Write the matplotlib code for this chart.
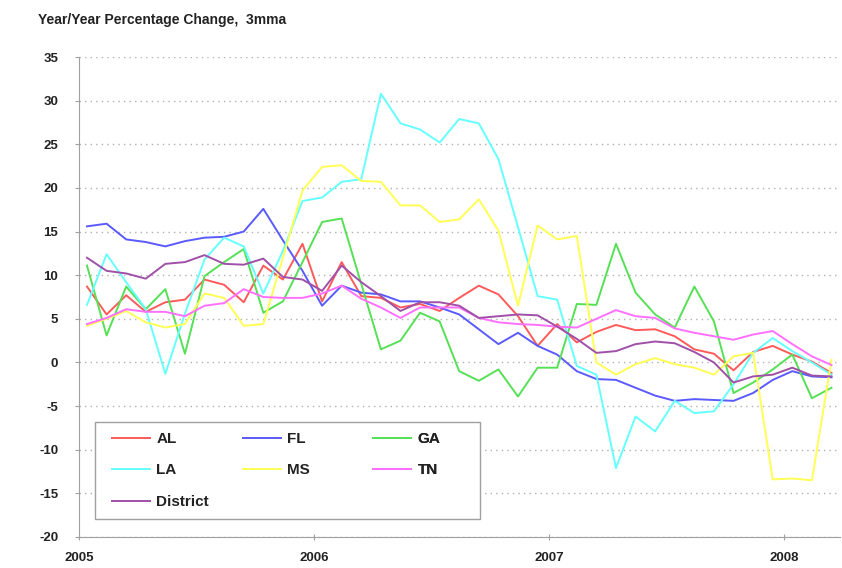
import matplotlib.pyplot as plt
from matplotlib.patches import Rectangle
import numpy as np

plt.rcParams['font.family'] = ['Liberation Sans', 'DejaVu Sans']
plt.rcParams['axes.unicode_minus'] = False

# monthly, Jan 2005 .. Mar 2008, year/year % change (3mma)
AL = [8.7, 5.5, 7.7, 5.8, 6.9, 7.2, 9.5, 8.9, 6.9, 11.1, 9.5, 13.6,
      7.0, 11.5, 7.6, 7.4, 6.3, 6.7, 5.9, 7.4, 8.8, 7.8, 5.3, 1.9,
      4.4, 2.3, 3.5, 4.3, 3.7, 3.8, 3.0, 1.5, 1.0, -0.9, 1.2, 1.9,
      0.9, 0.1, -1.2]
FL = [15.6, 15.9, 14.1, 13.8, 13.3, 13.9, 14.3, 14.4, 15.0, 17.6, 14.0, 10.5,
      6.5, 8.8, 8.0, 7.8, 7.0, 7.0, 6.3, 5.5, 3.8, 2.1, 3.4, 1.9,
      0.9, -1.0, -1.9, -2.0, -2.9, -3.8, -4.4, -4.2, -4.3, -4.4, -3.5, -2.0,
      -1.0, -1.6, -1.7]
GA = [11.1, 3.1, 8.7, 6.1, 8.4, 1.0, 9.9, 11.5, 13.0, 5.7, 7.0, 11.5,
      16.1, 16.5, 9.0, 1.5, 2.5, 5.7, 4.7, -1.0, -2.1, -0.8, -3.9, -0.6,
      -0.6, 6.7, 6.6, 13.6, 8.0, 5.5, 4.0, 8.7, 4.7, -3.5, -2.3, -0.8,
      0.9, -4.1, -2.9]
LA = [6.6, 12.4, 9.2, 6.1, -1.3, 5.6, 11.8, 14.3, 13.3, 7.9, 12.8, 18.5,
      18.9, 20.7, 21.0, 30.8, 27.4, 26.7, 25.2, 27.9, 27.4, 23.3, 15.5, 7.6,
      7.2, -0.4, -1.4, -12.1, -6.2, -7.9, -4.4, -5.8, -5.6, -2.5, 1.1, 2.8,
      1.3, 0.0, -1.4]
MS = [4.2, 5.0, 5.9, 4.6, 4.0, 4.4, 7.9, 7.4, 4.2, 4.4, 12.0, 19.7,
      22.4, 22.6, 20.8, 20.7, 18.0, 18.0, 16.1, 16.4, 18.7, 15.1, 6.5, 15.7,
      14.1, 14.5, 0.0, -1.4, -0.2, 0.5, -0.2, -0.6, -1.4, 0.7, 1.1, -13.4,
      -13.3, -13.5, 0.3]
TN = [4.4, 5.1, 6.1, 5.8, 5.8, 5.3, 6.5, 6.8, 8.4, 7.5, 7.4, 7.4,
      7.9, 8.8, 7.3, 6.3, 5.1, 6.3, 6.3, 6.3, 5.1, 4.6, 4.4, 4.3,
      4.1, 4.0, 5.0, 6.0, 5.3, 5.1, 3.9, 3.4, 3.0, 2.6, 3.2, 3.6,
      2.1, 0.7, -0.3]
District = [12.0, 10.5, 10.2, 9.6, 11.3, 11.5, 12.3, 11.3, 11.2, 11.9, 9.8, 9.5,
            8.2, 11.1, 9.2, 7.6, 5.9, 6.9, 6.9, 6.5, 5.1, 5.3, 5.5, 5.4,
            4.1, 2.7, 1.1, 1.3, 2.1, 2.4, 2.2, 1.2, 0.0, -2.3, -1.6, -1.4,
            -0.6, -1.5, -1.6]

years = ['2005', '2006', '2007', '2008']

series = [('AL', AL, '#ff5a5a'), ('FL', FL, '#5a5aff'), ('GA', GA, '#55e055'),
          ('LA', LA, '#66ffff'), ('MS', MS, '#ffff55'), ('TN', TN, '#ff70ff'),
          ('District', District, '#a050a8')]

fig = plt.figure(figsize=(8.42, 5.68), dpi=100)
ax = fig.add_axes([0.094, 0.0546, 0.904, 0.845])

x = np.arange(len(AL)) + 0.4
lines = {}
for name, vals, col in series:
    lines[name], = ax.plot(x, vals, color=col, lw=1.4, label=name)

ax.set_xlim(0, 38.85)
ax.set_ylim(-20, 35)
ax.set_yticks(np.arange(-20, 36, 5))
ax.set_xticks(np.arange(len(years)) * 12)
ax.set_xticklabels(years)
ax.yaxis.grid(True, linestyle=(0, (1, 3)), color='#b0b0b0', lw=1.0)

for s in ['top', 'right']:
    ax.spines[s].set_visible(False)
for s in ['left', 'bottom']:
    ax.spines[s].set_color('#a0a0a0')
ax.tick_params(axis='y', length=3, color='#a0a0a0', labelsize=9.5, pad=12)
ax.tick_params(axis='x', direction='inout', length=5, color='#a0a0a0', labelsize=9.5, pad=8)
for lab in ax.get_xticklabels() + ax.get_yticklabels():
    lab.set_fontweight('bold')
    lab.set_color('#222222')

# legend box, then one frameless legend per column (rows line up across columns)
ax.add_patch(Rectangle((0.021, 0.0375), 0.506, 0.202, transform=ax.transAxes,
                       facecolor='white', edgecolor='#a0a0a0', lw=1.0, zorder=5))
columns = [(['AL', 'LA', 'District'], 0.0434), (['FL', 'MS'], 0.2155), (['GA', 'TN'], 0.3863)]
for names, x0 in columns:
    leg = ax.legend([lines[k] for k in names], names, loc='upper left',
                    bbox_to_anchor=(x0, 0.219), frameon=False,
                    prop={'weight': 'bold', 'size': 11}, handlelength=2.5,
                    handletextpad=0.4, labelspacing=1.15, borderpad=0,
                    borderaxespad=0)
    leg.set_zorder(6)
    for t in leg.get_texts():
        t.set_color('#222222')
    ax.add_artist(leg)

fig.text(0.045, 0.965, 'Year/Year Percentage Change,  3mma', fontsize=10,
         fontweight='bold', color='#222222', va='center')

fig.savefig('out.png', dpi=100)
